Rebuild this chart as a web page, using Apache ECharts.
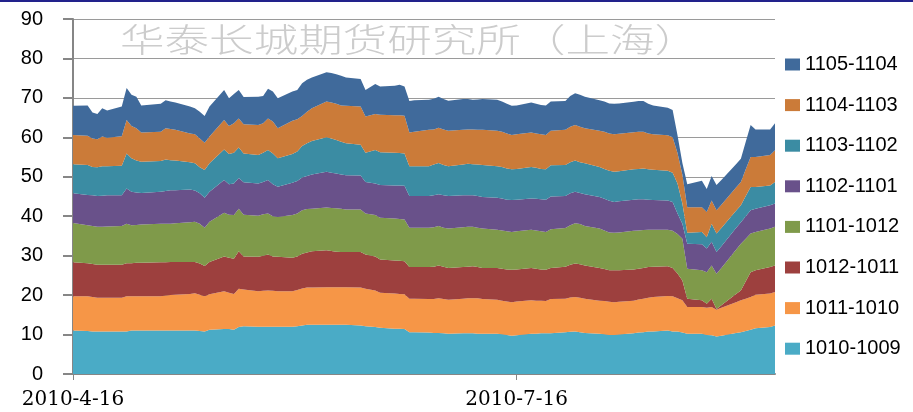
<!DOCTYPE html>
<html>
<head>
<meta charset="utf-8">
<title>跨期价差堆积图</title>
<script src="https://cdn.jsdelivr.net/npm/echarts@6.0.0/dist/echarts.min.js"></script>
<style>
html, body { margin: 0; padding: 0; background: #fff; }
#chart { width: 913px; height: 412px; }
</style>
</head>
<body>
<div id="chart"></div>
<script>
// 交易日（每行一周）
var dates = [
    '2010-04-16',
    '2010-04-19', '2010-04-20', '2010-04-21', '2010-04-22', '2010-04-23',
    '2010-04-26', '2010-04-27', '2010-04-28', '2010-04-29', '2010-04-30',
    '2010-05-04', '2010-05-05', '2010-05-06', '2010-05-07',
    '2010-05-10', '2010-05-11', '2010-05-12', '2010-05-13', '2010-05-14',
    '2010-05-17', '2010-05-18', '2010-05-19', '2010-05-20', '2010-05-21',
    '2010-05-24', '2010-05-25', '2010-05-26', '2010-05-27', '2010-05-28',
    '2010-05-31', '2010-06-01', '2010-06-02', '2010-06-03', '2010-06-04',
    '2010-06-07', '2010-06-08', '2010-06-09', '2010-06-10', '2010-06-11',
    '2010-06-14', '2010-06-15', '2010-06-17', '2010-06-18',
    '2010-06-21', '2010-06-22', '2010-06-23', '2010-06-24', '2010-06-25',
    '2010-06-28', '2010-06-29', '2010-06-30', '2010-07-01', '2010-07-02',
    '2010-07-05', '2010-07-06', '2010-07-07', '2010-07-08', '2010-07-09',
    '2010-07-12', '2010-07-13', '2010-07-14', '2010-07-15', '2010-07-16',
    '2010-07-19', '2010-07-20', '2010-07-21', '2010-07-22', '2010-07-23',
    '2010-07-26', '2010-07-27', '2010-07-28', '2010-07-29', '2010-07-30',
    '2010-08-02', '2010-08-03', '2010-08-04', '2010-08-05', '2010-08-06',
    '2010-08-09', '2010-08-10', '2010-08-11', '2010-08-12', '2010-08-13',
    '2010-08-16', '2010-08-17', '2010-08-18', '2010-08-19', '2010-08-20',
    '2010-08-23', '2010-08-24', '2010-08-25', '2010-08-26', '2010-08-27',
    '2010-08-30', '2010-08-31', '2010-09-01', '2010-09-02', '2010-09-03',
    '2010-09-06', '2010-09-07'
];

// 横轴刻度
var tickDates = ['2010-04-16', '2010-07-16'];

// 各价差（自下而上堆积）
var s1010_1009 = [
    11.0,
    10.9, 10.8, 10.8, 10.8, 10.8,
    10.8, 10.8, 11.0, 11.0, 11.0,
    11.0, 11.0, 11.0, 11.0,
    11.0, 11.0, 10.9, 10.8, 11.2,
    11.4, 11.4, 11.2, 11.9, 12.1,
    12.0, 12.0, 12.0, 12.0, 12.0,
    12.0, 12.1, 12.3, 12.5, 12.5,
    12.5, 12.5, 12.5, 12.5, 12.5,
    12.3, 12.1, 11.9, 11.7,
    11.5, 11.5, 11.4, 10.6, 10.6,
    10.5, 10.4, 10.4, 10.3, 10.2,
    10.3, 10.3, 10.3, 10.2, 10.2,
    10.2, 10.1, 9.9, 9.7, 9.8,
    10.2, 10.2, 10.3, 10.3, 10.3,
    10.6, 10.7, 10.8, 10.6, 10.4,
    10.2, 10.1, 9.9, 9.9, 10.0,
    10.3, 10.5, 10.6, 10.8, 10.8,
    11.0, 10.8, 10.8, 10.5, 10.2,
    10.2, 9.9, 9.8, 9.5, 9.7,
    10.4, 10.6, 10.9, 11.2, 11.6,
    11.9, 12.3
];
var s1011_1010 = [
    8.7,
    8.8, 8.7, 8.5, 8.5, 8.5,
    8.5, 8.9, 8.7, 8.7, 8.7,
    8.7, 8.9, 9.0, 9.1,
    9.3, 9.5, 9.2, 8.9, 9.0,
    9.6, 9.2, 9.1, 9.7, 9.3,
    9.0, 9.1, 9.2, 9.1, 9.0,
    9.0, 9.2, 9.4, 9.4, 9.4,
    9.5, 9.5, 9.5, 9.5, 9.5,
    9.6, 9.5, 9.3, 8.9,
    8.9, 8.8, 8.8, 8.5, 8.5,
    8.5, 8.6, 8.8, 8.7, 8.6,
    8.8, 8.9, 8.9, 9.0, 8.8,
    8.6, 8.5, 8.5, 8.5, 8.6,
    8.5, 8.4, 8.3, 8.2, 8.7,
    8.5, 8.7, 8.7, 8.7, 8.7,
    8.4, 8.4, 8.4, 8.3, 8.3,
    8.3, 8.4, 8.5, 8.5, 8.7,
    8.8, 8.9, 8.4, 8.2, 6.8,
    6.8, 6.9, 7.2, 6.8, 7.1,
    7.8, 8.1, 8.2, 8.3, 8.5,
    8.5, 8.5
];
var s1012_1011 = [
    8.6,
    8.4, 8.4, 8.4, 8.4, 8.4,
    8.4, 8.4, 8.4, 8.5, 8.5,
    8.6, 8.4, 8.4, 8.3,
    8.1, 7.9, 7.9, 7.7, 8.2,
    8.8, 8.9, 8.9, 9.5, 8.4,
    8.7, 8.9, 9.1, 8.7, 8.7,
    8.5, 8.5, 8.8, 8.9, 9.2,
    9.4, 9.2, 9.0, 8.9, 8.9,
    9.0, 8.7, 8.6, 8.4,
    8.4, 8.4, 8.4, 8.0, 8.0,
    8.1, 8.2, 8.3, 8.2, 8.1,
    8.0, 8.0, 8.1, 7.9, 7.9,
    8.1, 8.1, 8.1, 8.2, 8.1,
    8.2, 8.1, 7.9, 7.9, 7.9,
    8.1, 8.3, 8.5, 8.5, 8.4,
    8.3, 8.1, 8.0, 8.1, 8.0,
    7.9, 7.8, 7.8, 7.8, 7.7,
    7.5, 7.2, 6.3, 5.0, 2.1,
    1.7, 1.0, 2.1, 0.2, 0.6,
    2.1, 2.5, 4.4, 6.3, 6.2,
    6.7, 6.7
];
var s1101_1012 = [
    10.0,
    9.6, 9.6, 9.6, 9.6, 9.7,
    9.8, 10.0, 9.6, 9.6, 9.7,
    9.8, 9.8, 9.7, 9.8,
    10.1, 10.2, 10.1, 9.7, 10.2,
    11.1, 10.9, 11.1, 10.8, 10.6,
    10.4, 10.5, 10.4, 10.2, 10.1,
    10.8, 10.9, 11.0, 11.0, 10.8,
    10.8, 10.9, 11.0, 11.0, 10.8,
    10.8, 10.4, 10.5, 10.6,
    10.6, 10.6, 10.6, 10.0, 10.0,
    10.0, 10.0, 10.0, 9.9, 10.0,
    10.1, 10.1, 10.0, 10.0, 10.0,
    9.7, 9.7, 9.7, 9.6, 9.7,
    9.7, 9.7, 9.7, 9.6, 9.8,
    9.8, 10.0, 10.2, 10.2, 10.0,
    10.0, 9.8, 9.6, 9.5, 9.6,
    9.8, 9.7, 9.6, 9.5, 9.4,
    9.3, 9.4, 10.0, 10.6, 7.6,
    7.6, 8.0, 8.4, 8.9, 9.5,
    11.2, 11.8, 10.8, 9.8, 9.7,
    9.8, 9.8
];
var s1102_1101 = [
    7.5,
    7.7, 7.8, 7.8, 7.9, 7.9,
    7.8, 8.9, 8.5, 8.2, 8.0,
    8.1, 8.3, 8.5, 8.4,
    8.3, 7.9, 7.7, 7.6, 7.6,
    8.3, 7.7, 8.0, 7.8, 8.2,
    8.2, 8.2, 8.5, 8.1, 7.7,
    8.2, 8.2, 8.3, 8.4, 8.7,
    9.1, 8.9, 8.8, 8.7, 8.7,
    8.6, 8.0, 8.0, 8.3,
    8.4, 8.5, 8.5, 8.0, 8.0,
    8.0, 8.1, 8.1, 8.2, 8.2,
    8.1, 8.0, 8.0, 8.0, 8.0,
    8.1, 8.1, 8.0, 8.1, 8.0,
    7.9, 8.0, 8.1, 8.2, 8.3,
    8.1, 8.1, 8.0, 7.9, 8.1,
    8.0, 8.0, 8.0, 7.8, 7.9,
    7.9, 7.9, 7.8, 7.6, 7.5,
    7.4, 7.3, 5.2, 3.8, 6.3,
    6.6, 6.0, 6.0, 5.5, 5.5,
    5.5, 5.5, 5.7, 5.9, 5.9,
    5.9, 5.9
];
var s1103_1102 = [
    7.4,
    7.6, 7.2, 7.3, 7.5, 7.4,
    7.5, 8.9, 8.5, 8.1, 7.9,
    7.8, 8.0, 7.6, 7.5,
    6.9, 6.9, 6.6, 7.0, 7.2,
    7.7, 7.7, 7.8, 7.7, 7.3,
    7.2, 7.4, 7.6, 7.8, 7.2,
    7.3, 7.5, 8.0, 8.3, 8.5,
    8.7, 8.7, 8.5, 8.3, 8.1,
    7.8, 7.4, 8.5, 8.3,
    8.3, 8.2, 8.2, 7.6, 7.6,
    7.6, 7.8, 7.9, 7.7, 7.6,
    7.8, 8.0, 7.9, 8.0, 8.1,
    8.0, 8.0, 7.9, 7.8, 7.8,
    8.0, 7.9, 7.7, 7.7, 7.9,
    7.9, 7.9, 7.9, 7.8, 7.8,
    7.6, 7.6, 7.6, 7.7, 7.6,
    7.7, 7.7, 7.8, 7.7, 7.7,
    7.5, 7.4, 7.6, 5.1, 2.8,
    3.1, 2.9, 4.6, 4.7, 4.6,
    4.4, 4.3, 5.1, 5.9, 5.5,
    5.0, 5.5
];
var s1104_1103 = [
    7.4,
    7.4, 7.2, 7.1, 7.5, 7.2,
    7.5, 8.5, 8.2, 8.2, 7.4,
    7.4, 7.9, 7.9, 7.8,
    7.3, 7.4, 7.3, 6.9, 6.8,
    7.5, 7.1, 7.5, 7.4, 7.4,
    7.6, 7.5, 8.0, 8.1, 7.6,
    8.4, 8.2, 7.6, 8.0, 8.3,
    9.1, 9.1, 9.2, 9.2, 9.5,
    9.7, 9.2, 9.1, 9.5,
    9.5, 9.6, 9.6, 8.5, 8.7,
    9.2, 8.9, 8.9, 9.0, 9.0,
    8.8, 8.7, 8.8, 8.8, 8.9,
    9.0, 8.9, 8.9, 8.7, 8.8,
    8.7, 8.7, 8.8, 8.7, 8.8,
    8.9, 9.0, 9.0, 9.0, 8.9,
    9.2, 9.4, 9.5, 9.5, 9.5,
    9.4, 9.4, 9.3, 9.1, 9.0,
    9.0, 9.0, 7.7, 7.3, 6.5,
    6.3, 6.4, 5.9, 5.9, 5.9,
    5.9, 5.9, 6.8, 7.6, 7.6,
    7.7, 8.0
];
var s1105_1104 = [
    7.4,
    7.7, 6.6, 6.4, 7.2, 6.9,
    7.5, 8.1, 7.9, 8.0, 6.9,
    7.1, 7.1, 7.0, 6.9,
    6.8, 6.6, 6.8, 6.8, 7.6,
    7.6, 7.0, 7.4, 7.2, 6.9,
    7.2, 6.9, 7.5, 7.6, 7.6,
    7.4, 7.4, 8.3, 8.1, 7.8,
    7.4, 7.5, 7.5, 7.5, 7.2,
    7.0, 6.7, 7.6, 7.2,
    7.5, 7.7, 7.4, 8.0, 8.0,
    7.6, 7.8, 7.9, 7.7, 7.6,
    7.8, 7.7, 7.5, 7.7, 7.8,
    7.8, 7.7, 7.5, 7.4, 7.3,
    7.6, 7.5, 7.4, 7.5, 7.4,
    7.3, 7.8, 8.1, 8.1, 8.0,
    7.7, 7.7, 7.6, 7.7, 7.7,
    7.7, 7.8, 7.8, 7.5, 7.3,
    7.0, 6.9, 4.5, 3.0, 5.8,
    6.7, 5.8, 6.2, 6.4, 6.3,
    5.9, 5.9, 7.0, 8.1, 7.0,
    6.5, 6.9
];

var names = ['1010-1009', '1011-1010', '1012-1011', '1101-1012',
             '1102-1101', '1103-1102', '1104-1103', '1105-1104'];
var values = [s1010_1009, s1011_1010, s1012_1011, s1101_1012,
              s1102_1101, s1103_1102, s1104_1103, s1105_1104];
var colors = ['#4aabc6', '#f69647', '#9d403e', '#7f9a4a',
              '#69518a', '#3b8ca3', '#cb7b39', '#406a9b'];

// 日期 -> 距首日的自然日数（横轴按日历日排布）
var DAY = 86400000;
function toTime(s) {
    var p = s.split('-');
    return Date.UTC(+p[0], +p[1] - 1, +p[2]);
}
var t0 = toTime(dates[0]);
function dayOf(s) {
    return Math.round((toTime(s) - t0) / DAY);
}
function labelOf(day) {
    var d = new Date(t0 + day * DAY);
    return d.getUTCFullYear() + '-' + (d.getUTCMonth() + 1) + '-' + d.getUTCDate();
}

var tickDays = tickDates.map(dayOf);

var chart = echarts.init(document.getElementById('chart'));

// 数值放在第0维，保证堆积作用在纵轴上
var series = names.map(function (name, i) {
    return {
        name: name,
        type: 'line',
        stack: 'spread',
        symbol: 'none',
        showSymbol: false,
        silent: true,
        encode: { x: 1, y: 0 },
        lineStyle: { width: 0, opacity: 0 },
        itemStyle: { color: colors[i] },
        areaStyle: { color: colors[i], opacity: 1 },
        data: values[i].map(function (v, j) {
            return [v, dayOf(dates[j])];
        })
    };
});

var option = {
    animation: false,
    backgroundColor: '#fff',
    grid: {
        left: 73,
        right: 138,
        top: 19,
        bottom: 38
    },
    graphic: [{
        type: 'rect',
        left: 0,
        top: 0,
        shape: { width: 913, height: 2 },
        style: { fill: '#22228c' }
    }, {
        type: 'text',
        x: 120,
        y: 39,
        scaleX: 1.35,
        z: 1,
        style: {
            text: '华泰长城期货研究所（上海）',
            fontSize: 33,
            fontFamily: '"Noto Sans CJK SC"',
            fontWeight: 300,
            fill: '#cccccc',
            verticalAlign: 'middle'
        }
    }],
    legend: {
        orient: 'vertical',
        left: 780,
        top: 49.5,
        itemWidth: 15,
        itemHeight: 12,
        itemGap: 20.6,
        icon: 'rect',
        selectedMode: false,
        textStyle: {
            fontSize: 20,
            lineHeight: 20,
            fontFamily: 'Liberation Sans',
            color: '#000'
        },
        data: names.slice().reverse()
    },
    xAxis: {
        type: 'value',
        min: 0,
        max: dayOf(dates[dates.length - 1]),
        axisLine: {
            lineStyle: { color: '#868686', width: 2 }
        },
        axisTick: {
            show: true,
            length: 6,
            customValues: tickDays,
            lineStyle: { color: '#868686', width: 1 }
        },
        axisLabel: {
            customValues: tickDays,
            margin: 16,
            fontSize: 20,
            fontFamily: 'DejaVu Serif',
            color: '#000',
            formatter: labelOf
        },
        splitLine: { show: false }
    },
    yAxis: {
        type: 'value',
        min: 0,
        max: 90,
        interval: 10,
        axisLine: {
            show: true,
            lineStyle: { color: '#868686', width: 2 }
        },
        axisTick: {
            show: true,
            length: 10,
            lineStyle: { color: '#868686', width: 2 }
        },
        axisLabel: {
            margin: 30,
            fontSize: 20,
            fontFamily: 'Liberation Sans',
            color: '#000'
        },
        splitLine: {
            lineStyle: { color: '#9a9a9a', width: 1 }
        }
    },
    series: series
};

chart.setOption(option);
</script>
</body>
</html>
